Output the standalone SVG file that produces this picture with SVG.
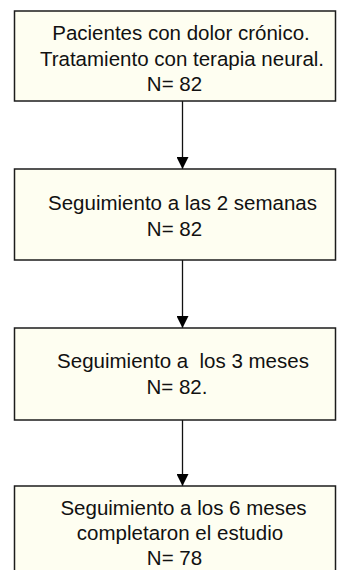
<svg xmlns="http://www.w3.org/2000/svg" width="337" height="570" viewBox="0 0 337 570">
<defs>
<style>
.box{fill:#fefef1;stroke:#1c1c1c;stroke-width:1.5}
.t{font-family:"Liberation Sans",Arial,sans-serif;font-size:20.5px;fill:#111;text-anchor:middle}
.c{stroke:#111;stroke-width:1.3;fill:none}
</style>
<marker id="ah" markerUnits="userSpaceOnUse" markerWidth="13" markerHeight="12" refX="12" refY="6" orient="auto">
<path d="M0,0 L12,6 L0,12 Z" fill="#000"/>
</marker>
</defs>
<g id="connectors">
<line class="c" x1="182.5" y1="101" x2="182.5" y2="169" marker-end="url(#ah)"/>
<line class="c" x1="182.5" y1="260" x2="182.5" y2="328" marker-end="url(#ah)"/>
<line class="c" x1="182.5" y1="420" x2="182.5" y2="486" marker-end="url(#ah)"/>
</g>
<g id="n1">
<rect class="box" x="14.5" y="11" width="321" height="90"/>
<text class="t" x="181" y="39.5">Pacientes con dolor crónico.</text>
<text class="t" x="182" y="65.7">Tratamiento con terapia neural.</text>
<text class="t" x="174.5" y="90.7">N= 82</text>
</g>
<g id="n2">
<rect class="box" x="14.5" y="169" width="321" height="91"/>
<text class="t" x="182.5" y="210">Seguimiento a las 2 semanas</text>
<text class="t" x="174.5" y="236">N= 82</text>
</g>
<g id="n3">
<rect class="box" x="14.5" y="328" width="321" height="92"/>
<text class="t" x="183" y="368" xml:space="preserve">Seguimiento a  los 3 meses</text>
<text class="t" x="177" y="394">N= 82.</text>
</g>
<g id="n4">
<rect class="box" x="14.5" y="486" width="321" height="90"/>
<text class="t" x="183.5" y="515.3">Seguimiento a los 6 meses</text>
<text class="t" x="180" y="539.5">completaron el estudio</text>
<text class="t" x="174.5" y="565">N= 78</text>
</g>
</svg>
